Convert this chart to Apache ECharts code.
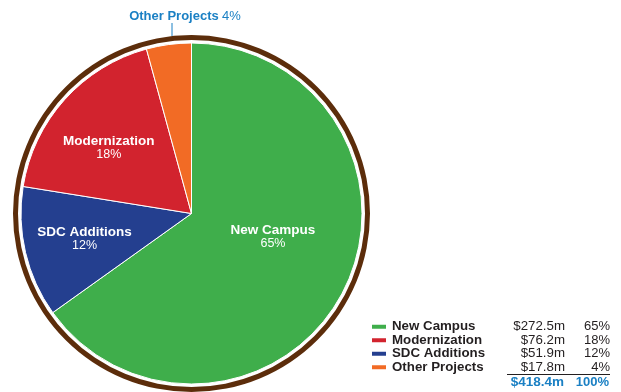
<!DOCTYPE html>
<html>
<head>
<meta charset="utf-8">
<script src="https://cdn.jsdelivr.net/npm/echarts@6/dist/echarts.min.js"></script>
<style>
  html, body { margin: 0; padding: 0; background: #fff; }
  #chart { width: 621px; height: 392px; }
</style>
</head>
<body>
<div id="chart"></div>
<script>
// Capital plan by category ($ millions), clockwise from 12 o'clock
const categories = ['New Campus', 'SDC Additions', 'Modernization', 'Other Projects'];
const amounts = [272.5, 51.9, 76.2, 17.8];
const percents = [65, 12, 18, 4];
const legendOrder = ['New Campus', 'Modernization', 'SDC Additions', 'Other Projects'];
const totalLabel = '$418.4m';
const totalPercent = '100%';

const colors = {
  'New Campus': '#3fae4b',
  'Modernization': '#d2232e',
  'SDC Additions': '#243f8f',
  'Other Projects': '#f26b25'
};
const ringColor = '#5c2d0b';
const accent = '#1b80c4';
const ink = '#231f20';
const font = '"Liberation Sans", Arial, Helvetica, sans-serif';

// per-slice nudges for the inside labels
const labelOffsets = {
  'New Campus': [3, -17],
  'SDC Additions': [-21, 5],
  'Modernization': [-17, -7]
};

const pieData = categories.map((name, i) => {
  const item = {
    name: name,
    value: amounts[i],
    itemStyle: { color: colors[name] }
  };
  if (name === 'Other Projects') {
    item.label = {
      position: 'outside',
      formatter: '{b|' + name + '} {p|' + percents[i] + '%}',
      rich: {
        b: { fontFamily: font, fontWeight: 'bold', fontSize: 13, color: accent },
        p: { fontFamily: font, fontSize: 13, color: accent }
      }
    };
    item.labelLine = { show: true, lineStyle: { color: accent, width: 1 } };
  } else {
    item.label = {
      position: 'inside',
      offset: labelOffsets[name],
      formatter: '{n|' + name + '}\n{p|' + percents[i] + '%}',
      rich: {
        n: { fontFamily: font, fontWeight: 'bold', fontSize: 13.5, color: '#fff', lineHeight: 14, align: 'center' },
        p: { fontFamily: font, fontSize: 12.5, color: '#fff', lineHeight: 13, align: 'center' }
      }
    };
    item.labelLine = { show: false };
  }
  return item;
});

const amountOf = {};
const pctOf = {};
categories.forEach((c, i) => { amountOf[c] = amounts[i]; pctOf[c] = percents[i]; });

const chart = echarts.init(document.getElementById('chart'), null, { renderer: 'canvas' });

chart.setOption({
  animation: false,
  backgroundColor: '#fff',
  legend: {
    orient: 'vertical',
    left: 370,
    top: 320,
    padding: 0,
    itemGap: 0,
    itemWidth: 16,
    itemHeight: 6,
    icon: 'rect',
    selectedMode: false,
    data: legendOrder,
    formatter: function (name) {
      return '{n|' + name + '}{v|$' + amountOf[name].toFixed(1) + 'm}{p|' + pctOf[name] + '%}';
    },
    textStyle: {
      lineHeight: 13.5,
      rich: {
        n: { fontFamily: font, fontWeight: 'bold', fontSize: 13.3, color: ink, width: 118, lineHeight: 13.5 },
        v: { fontFamily: font, fontSize: 13.3, color: ink, width: 55, align: 'right', lineHeight: 13.5 },
        p: { fontFamily: font, fontSize: 13, color: ink, width: 45, align: 'right', lineHeight: 13.5 }
      }
    }
  },
  series: [
    {
      type: 'pie',
      silent: true,
      center: [191.5, 213.5],
      radius: [173.5, 178.5],
      label: { show: false },
      labelLine: { show: false },
      itemStyle: { color: ringColor },
      data: [{ value: 1, name: 'ring' }],
      z: 1
    },
    {
      type: 'pie',
      center: [191.5, 213.5],
      radius: 170.5,
      startAngle: 90,
      clockwise: true,
      avoidLabelOverlap: false,
      itemStyle: { borderColor: '#fff', borderWidth: 1 },
      emphasis: { disabled: true },
      labelLayout: function (params) {
        if (params.dataIndex === 3) {
          return {
            x: 185,
            y: 16.5,
            align: 'center',
            verticalAlign: 'middle',
            labelLinePoints: [[172, 36], [172, 23], [172, 23]]
          };
        }
      },
      data: pieData,
      z: 2
    }
  ],
  graphic: [
    {
      type: 'line',
      shape: { x1: 507, y1: 374.5, x2: 610, y2: 374.5 },
      style: { stroke: ink, lineWidth: 1 }
    },
    {
      type: 'text',
      x: 564, y: 382,
      style: {
        text: totalLabel, fill: accent, font: 'bold 13.5px ' + font,
        align: 'right', verticalAlign: 'middle'
      }
    },
    {
      type: 'text',
      x: 609, y: 382,
      style: {
        text: totalPercent, fill: accent, font: 'bold 13px ' + font,
        align: 'right', verticalAlign: 'middle'
      }
    }
  ]
});
</script>
</body>
</html>
